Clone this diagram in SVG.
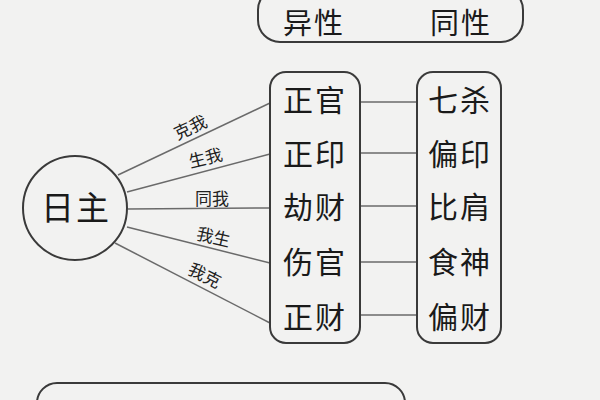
<svg xmlns="http://www.w3.org/2000/svg" width="600" height="400" viewBox="0 0 600 400">
<style>
.box{fill:none;stroke:#3a3a3a;stroke-width:2}
.big{font-family:"Noto Sans CJK SC","Noto Sans",sans-serif;font-size:30px;fill:#1a1a1a;text-anchor:middle;letter-spacing:2px}
.lbl{font-family:"Noto Sans CJK SC","Noto Sans",sans-serif;font-size:17px;fill:#222;text-anchor:middle}
.con{stroke:#6a6a6a;stroke-width:1.5;fill:none}
</style>
<rect x="0" y="0" width="600" height="400" fill="#f2f2f1"/>
<g id="header">
<rect class="box" x="258" y="-12" width="265" height="54" rx="22"/>
<text class="big" x="314" y="34" style="font-size:29px">异性</text>
<text class="big" x="461" y="34" style="font-size:29px">同性</text>
</g>
<g id="connectors">
<line class="con" x1="118" y1="175" x2="270" y2="103"/>
<line class="con" x1="127" y1="192" x2="270" y2="154"/>
<line class="con" x1="128" y1="209" x2="270" y2="208"/>
<line class="con" x1="127" y1="227" x2="270" y2="263"/>
<line class="con" x1="115" y1="243" x2="270" y2="323"/>
<line class="con" x1="360" y1="102" x2="417" y2="102"/>
<line class="con" x1="360" y1="153" x2="417" y2="153"/>
<line class="con" x1="360" y1="206" x2="417" y2="206"/>
<line class="con" x1="360" y1="262" x2="417" y2="262"/>
<line class="con" x1="360" y1="315" x2="417" y2="315"/>
<text class="lbl" transform="translate(193,133) rotate(-25)">克我</text>
<text class="lbl" transform="translate(207,164) rotate(-14)">生我</text>
<text class="lbl" x="212" y="205">同我</text>
<text class="lbl" transform="translate(212,243) rotate(13)">我生</text>
<text class="lbl" transform="translate(202,281) rotate(27)">我克</text>
</g>
<g id="rizhu">
<circle cx="75" cy="208" r="52" fill="none" stroke="#3a3a3a" stroke-width="2"/>
<text class="big" x="76" y="220" style="font-size:33px">日主</text>
</g>
<g id="yixing">
<rect class="box" x="270" y="72" width="90" height="271" rx="16"/>
<text class="big" x="315" y="111">正官</text>
<text class="big" x="315" y="165">正印</text>
<text class="big" x="315" y="218">劫财</text>
<text class="big" x="315" y="273">伤官</text>
<text class="big" x="315" y="328">正财</text>
</g>
<g id="tongxing">
<rect class="box" x="417" y="72" width="84" height="271" rx="16"/>
<text class="big" x="460" y="111">七杀</text>
<text class="big" x="460" y="165">偏印</text>
<text class="big" x="460" y="218">比肩</text>
<text class="big" x="460" y="273">食神</text>
<text class="big" x="460" y="328">偏财</text>
</g>
<g id="footer">
<rect class="box" x="37" y="383" width="368" height="50" rx="20"/>
</g>
</svg>
